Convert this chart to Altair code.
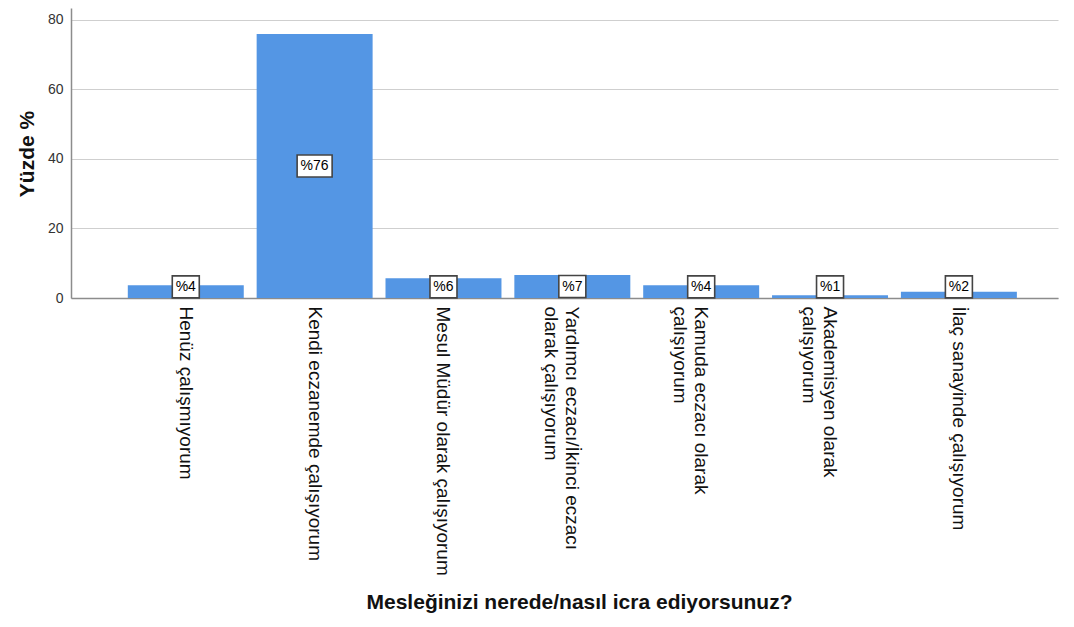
import json
import altair as alt
import pandas as pd

categories = [
    "Henüz çalışmıyorum",
    "Kendi eczanemde çalışıyorum",
    "Mesul Müdür olarak çalışıyorum",
    "Yardımcı eczacı/İkinci eczacı olarak çalışıyorum",
    "Kamuda eczacı olarak çalışıyorum",
    "Akademisyen olarak çalışıyorum",
    "İlaç sanayinde çalışıyorum",
]
category_lines = [
    ["Henüz çalışmıyorum"],
    ["Kendi eczanemde çalışıyorum"],
    ["Mesul Müdür olarak çalışıyorum"],
    ["Yardımcı eczacı/İkinci eczacı", "olarak çalışıyorum"],
    ["Kamuda eczacı olarak", "çalışıyorum"],
    ["Akademisyen olarak", "çalışıyorum"],
    ["İlaç sanayinde çalışıyorum"],
]
percent = [3.7, 76.0, 5.7, 6.6, 3.7, 0.8, 1.8]
percent_labels = ["%4", "%76", "%6", "%7", "%4", "%1", "%2"]
y_ticks = [0, 20, 40, 60, 80]

x_title = "Mesleğinizi nerede/nasıl icra ediyorsunuz?"
y_title = "Yüzde %"

FONT = "Liberation Sans"
BAR_COLOR = "#5496E4"

df = pd.DataFrame({"cat": categories, "pct": percent, "lbl": percent_labels})

label_expr = (
    json.dumps(category_lines, ensure_ascii=False)
    + "[indexof(" + json.dumps(categories, ensure_ascii=False) + ", datum.label)]"
)

x_enc = alt.X(
    "cat:N",
    sort=categories,
    scale=alt.Scale(paddingInner=0.1, paddingOuter=0.38, align=0.58),
    axis=alt.Axis(
        title=x_title,
        labelExpr=label_expr,
        labelAngle=90,
        labelAlign="left",
        labelBaseline="middle",
        labelFont=FONT,
        labelFontSize=19,
        labelLineHeight=21,
        labelColor="#111111",
        labelPadding=8,
        labelLimit=400,
        labelOverlap=False,
        ticks=False,
        grid=False,
        domainColor="#8c8c8c",
        domainWidth=1.5,
        titleFont=FONT,
        titleFontSize=21,
        titleFontWeight="bold",
        titleColor="#111111",
        titleX=508,
        titleY=304,
        titleAlign="center",
        titleBaseline="middle",
    ),
)

y_scale = alt.Scale(domain=[0, 83.45], nice=False, zero=True)

y_enc = alt.Y(
    "pct:Q",
    scale=y_scale,
    axis=alt.Axis(
        title=y_title,
        values=y_ticks,
        ticks=False,
        grid=True,
        gridColor="#cfcfcf",
        gridWidth=1,
        domainColor="#8c8c8c",
        domainWidth=1.5,
        labelFont=FONT,
        labelFontSize=14,
        labelColor="#333333",
        labelPadding=8,
        titleFont=FONT,
        titleFontSize=21,
        titleFontWeight="bold",
        titleColor="#111111",
        titleAngle=-90,
        titleX=-44,
        titleY=145.5,
        titleAlign="center",
        titleBaseline="middle",
    ),
)

bars = alt.Chart(df).mark_bar(color=BAR_COLOR).encode(x=x_enc, y=y_enc)

label_base = alt.Chart(df).transform_calculate(
    ly="max(datum.pct / 2, 3.2)",
    shp="length(datum.lbl) > 2 ? 'M-1.75,-1.1H1.75V1.1H-1.75Z' : 'M-1.35,-1.1H1.35V1.1H-1.35Z'",
)

boxes = label_base.mark_point(
    size=400, fill="white", stroke="#444444", strokeWidth=1.6, opacity=1, fillOpacity=1
).encode(
    x=alt.X("cat:N", sort=categories),
    y=alt.Y("ly:Q", scale=y_scale),
    shape=alt.Shape("shp:N", scale=None),
)

texts = label_base.mark_text(
    font=FONT, fontSize=14, color="#000000", align="center", baseline="middle"
).encode(
    x=alt.X("cat:N", sort=categories),
    y=alt.Y("ly:Q", scale=y_scale),
    text="lbl:N",
)

chart = (
    alt.layer(bars, boxes, texts)
    .properties(
        width=987,
        height=290,
        autosize=alt.AutoSizeParams(type="none"),
        padding={"left": 63, "top": 0, "right": 8, "bottom": 321},
        background="white",
    )
    .configure_view(stroke=None)
)

chart.save("out.html", embed_options={"renderer": "svg", "actions": False})
